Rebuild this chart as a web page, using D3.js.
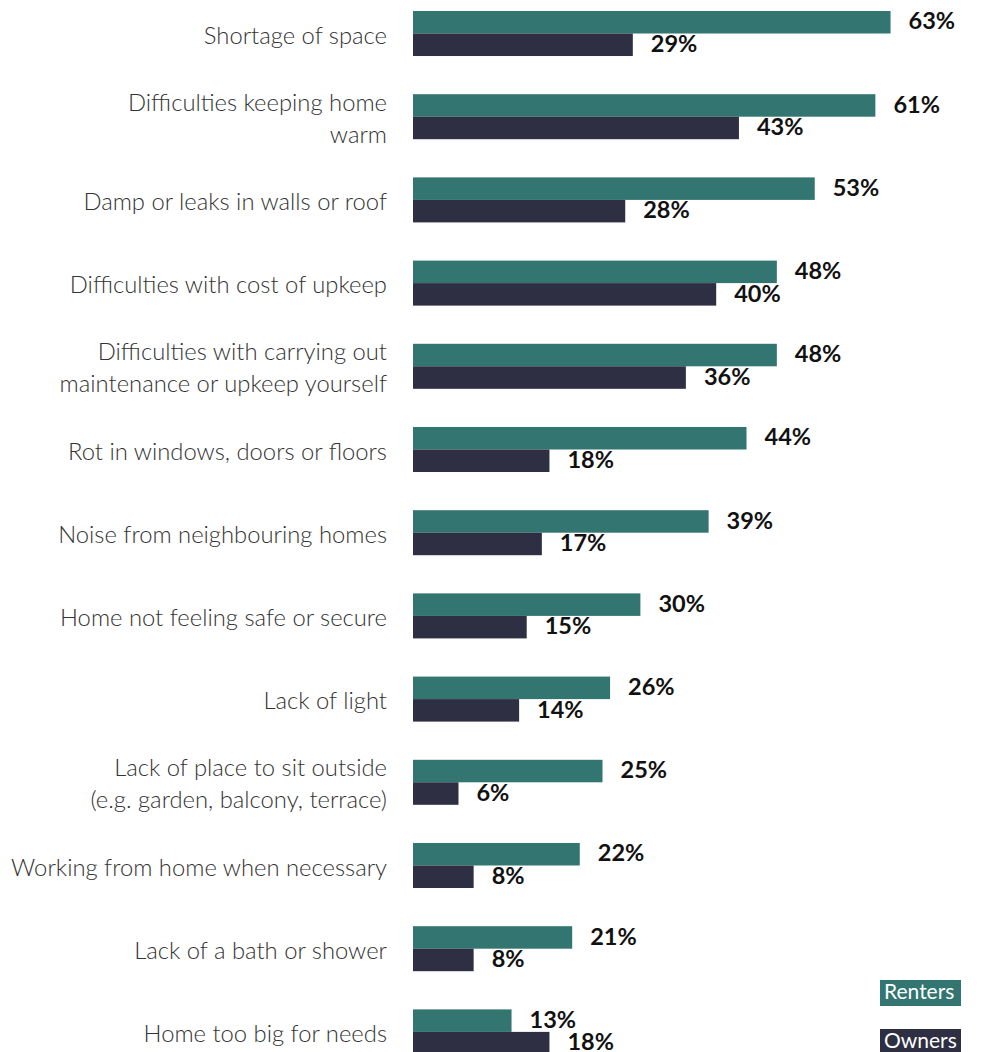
<!DOCTYPE html>
<html>
<head>
<meta charset="utf-8">
<script src="https://cdn.jsdelivr.net/npm/d3@7"></script>
<style>
  html, body { margin: 0; padding: 0; background: #fff; }
  svg { display: block; }
</style>
</head>
<body>
<svg id="chart" width="988" height="1052"></svg>
<script>
// Housing problems reported, renters vs owners (%)
const categories = [
  ["Shortage of space"],
  ["Difficulties keeping home", "warm"],
  ["Damp or leaks in walls or roof"],
  ["Difficulties with cost of upkeep"],
  ["Difficulties with carrying out", "maintenance or upkeep yourself"],
  ["Rot in windows, doors or floors"],
  ["Noise from neighbouring homes"],
  ["Home not feeling safe or secure"],
  ["Lack of light"],
  ["Lack of place to sit outside", "(e.g. garden, balcony, terrace)"],
  ["Working from home when necessary"],
  ["Lack of a bath or shower"],
  ["Home too big for needs"]
];
const seriesNames = ["Renters", "Owners"];
const renters = [63, 61, 53, 48, 48, 44, 39, 30, 26, 25, 22, 21, 13];
const owners  = [29, 43, 28, 40, 36, 18, 17, 15, 14, 6, 8, 8, 18];
const colors = ["#337570", "#2e2f42"];

const svg = d3.select("#chart");
const keys = categories.map(c => c.join(" "));

const y = d3.scaleBand()
  .domain(keys)
  .range([11, 1054.4])
  .paddingInner(0.459)
  .paddingOuter(0);

const ySub = d3.scaleBand()
  .domain(seriesNames)
  .range([0, y.bandwidth()])
  .padding(0);

const x = d3.scaleLinear().domain([0, 60]).range([413, 413 + 60 * 7.58]);

const rows = keys.map((k, i) => ({
  key: k,
  lines: categories[i],
  values: [
    { name: "Renters", v: renters[i] },
    { name: "Owners", v: owners[i] }
  ]
}));

const color = d3.scaleOrdinal().domain(seriesNames).range(colors);

const g = svg.append("g")
  .selectAll("g.row")
  .data(rows)
  .join("g")
  .attr("class", "row")
  .attr("transform", d => `translate(0,${y(d.key)})`);

// bars
g.selectAll("rect")
  .data(d => d.values)
  .join("rect")
  .attr("x", x(0))
  .attr("y", d => ySub(d.name))
  .attr("height", ySub.bandwidth())
  .attr("width", d => x(d.v) - x(0))
  .attr("fill", d => color(d.name));

// value labels
g.selectAll("text.val")
  .data(d => d.values)
  .join("text")
  .attr("class", "val")
  .attr("x", d => x(d.v) + 18)
  .attr("y", d => ySub(d.name) + ySub.bandwidth() / 2 - 1)
  .attr("dy", "0.35em")
  .attr("font-family", "Lato, 'Open Sans', sans-serif")
  .attr("font-weight", 700)
  .attr("font-size", 23.5)
  .attr("fill", "#111")
  .text(d => d.v + "%");

// category labels
g.append("text")
  .attr("class", "cat")
  .attr("x", 387)
  .attr("text-anchor", "end")
  .attr("font-family", "Lato, 'Open Sans', sans-serif")
  .attr("font-weight", 300)
  .attr("font-size", 23.8)
  .attr("fill", "#333")
  .each(function(d) {
    const t = d3.select(this);
    const mid = y.bandwidth() / 2 + 1.5;
    const lh = 32;
    const n = d.lines.length;
    d.lines.forEach((line, j) => {
      t.append("tspan")
        .attr("x", 387)
        .attr("y", mid + (j - (n - 1) / 2) * lh)
        .attr("dy", "0.36em")
        .text(line);
    });
  });

// legend
const legend = svg.append("g").attr("class", "legend");
const legendItems = [
  { name: "Renters", y: 980, h: 26 },
  { name: "Owners", y: 1029, h: 26 }
];
legendItems.forEach(item => {
  legend.append("rect")
    .attr("x", 880)
    .attr("y", item.y)
    .attr("width", 81)
    .attr("height", item.h)
    .attr("fill", color(item.name));
  legend.append("text")
    .attr("x", 884)
    .attr("y", item.y + 19)
    .attr("font-family", "Lato, 'Open Sans', sans-serif")
    .attr("font-size", 21)
    .attr("fill", "#fff")
    .text(item.name);
});
</script>
</body>
</html>
